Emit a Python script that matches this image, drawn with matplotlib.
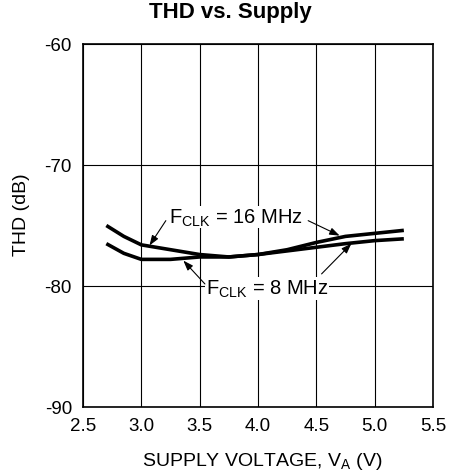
import matplotlib
matplotlib.use("Agg")
import matplotlib.pyplot as plt
import numpy as np

plt.rcParams['font.family'] = ['Liberation Sans', 'DejaVu Sans']
plt.rcParams['mathtext.fontset'] = 'custom'
plt.rcParams['mathtext.rm'] = 'Liberation Sans'
plt.rcParams['mathtext.it'] = 'Liberation Sans'

# Data
supply_v = [2.7, 2.85, 3.0, 3.25, 3.5, 3.75, 4.0, 4.25, 4.5, 4.75, 5.0, 5.25]
thd_16mhz = [-75.0, -75.9, -76.6, -77.0, -77.4, -77.6, -77.4, -77.0, -76.4, -75.9, -75.65, -75.4]
thd_8mhz = [-76.5, -77.3, -77.8, -77.8, -77.6, -77.6, -77.4, -77.1, -76.8, -76.5, -76.25, -76.1]
x_ticks = [2.5, 3.0, 3.5, 4.0, 4.5, 5.0, 5.5]
y_ticks = [-90, -80, -70, -60]

W, H = 453, 477
fig = plt.figure(figsize=(W/100, H/100), dpi=100)
ax = fig.add_axes([83/W, 1-408/H, 350/W, 363/H])

ax.plot(supply_v, thd_16mhz, color='black', lw=2.6, solid_capstyle='butt', solid_joinstyle='round')
ax.plot(supply_v, thd_8mhz, color='black', lw=2.6, solid_capstyle='butt', solid_joinstyle='round')

ax.set_xlim(2.5, 5.5)
ax.set_ylim(-90, -60)
ax.set_xticks(x_ticks)
ax.set_xticklabels([f"{v:.1f}" for v in x_ticks])
ax.set_yticks(y_ticks)
ax.set_yticklabels([str(v) for v in y_ticks])
ax.tick_params(length=0, labelsize=13.5)
ax.tick_params(axis='x', pad=7)
ax.tick_params(axis='y', pad=8)
ax.grid(True, color='black', lw=0.8)
for s in ax.spines.values():
    s.set_linewidth(1.2)

fig.text(230/W, 1-12.5/H, 'THD vs. Supply', fontsize=16, fontweight='bold', ha='center', va='center')
fig.text(262/W, 1-466.5/H, 'SUPPLY VOLTAGE, V$_{\\mathrm{A}}$ (V)', fontsize=14, ha='center', va='baseline')
fig.text(21/W, 1-215/H, 'THD (dB)', fontsize=14, ha='center', va='center', rotation=90)

bbox = dict(facecolor='white', edgecolor='none', pad=0.5)
arrow = dict(arrowstyle='-|>,head_length=0.5,head_width=0.18', color='black', lw=0.8,
             mutation_scale=12, shrinkA=0, shrinkB=0)

ax.text(3.81, -74.74, 'F$_{\\mathrm{CLK}}$ = 16 MHz', fontsize=14.5, ha='center', va='baseline', bbox=bbox)
ax.annotate('', xy=(3.07, -76.65), xytext=(3.21, -74.6), arrowprops=arrow)
ax.annotate('', xy=(4.70, -75.84), xytext=(4.43, -74.6), arrowprops=arrow)

ax.text(4.08, -80.66, 'F$_{\\mathrm{CLK}}$ = 8 MHz', fontsize=14.5, ha='center', va='baseline', bbox=bbox)
ax.annotate('', xy=(3.36, -77.9), xytext=(3.545, -79.83), arrowprops=arrow)
ax.annotate('', xy=(4.80, -76.5), xytext=(4.545, -79.0), arrowprops=arrow)

fig.savefig('out.png', dpi=100)
